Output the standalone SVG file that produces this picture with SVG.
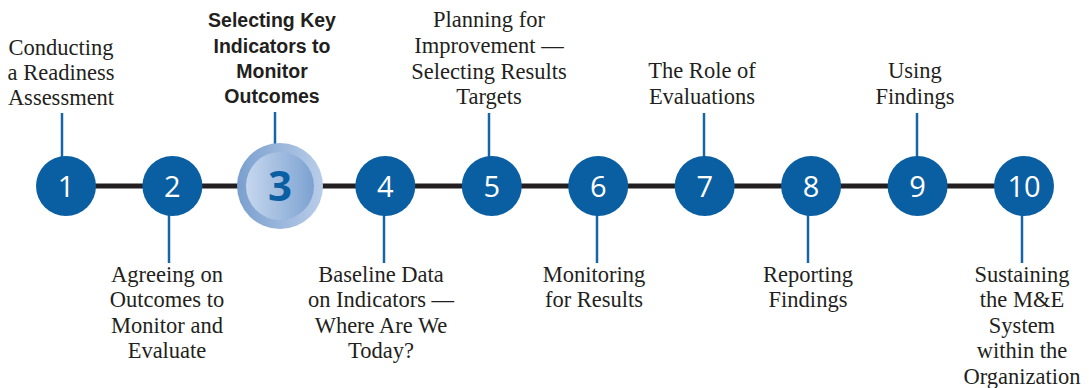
<svg xmlns="http://www.w3.org/2000/svg" width="1089" height="388" viewBox="0 0 1089 388">
<defs>
<style>
.lbl{font-family:"Liberation Serif","Tinos","DejaVu Serif",serif;font-size:22.5px;fill:#231f20;text-anchor:middle}
.blbl{font-family:"Liberation Sans",Arial,sans-serif;font-weight:bold;font-size:19.5px;fill:#231f20;text-anchor:middle}
.num{font-family:"Open Sans","Liberation Sans",sans-serif;font-size:29px;fill:#ffffff;text-anchor:middle}
.dot{fill:#0a5fa3}
.tick{stroke:#1565a8;stroke-width:2.5;fill:none}
</style>
<linearGradient id="ring" x1="0" y1="0" x2="1" y2="0">
<stop offset="0" stop-color="#7a9fce"/>
<stop offset="1" stop-color="#b9cde9"/>
</linearGradient>
<linearGradient id="core" x1="0" y1="0" x2="1" y2="0">
<stop offset="0" stop-color="#c6d7ee"/>
<stop offset="1" stop-color="#7ca2d1"/>
</linearGradient>
</defs>
<rect width="1089" height="388" fill="#ffffff"/>
<g id="connectors">
<line x1="66" y1="186" x2="1024" y2="186" stroke="#231f20" stroke-width="5"/>
<line class="tick" x1="62" y1="113" x2="62" y2="157"/>
<line class="tick" x1="169" y1="215" x2="169" y2="263"/>
<line class="tick" x1="275" y1="112" x2="275" y2="144"/>
<line class="tick" x1="384" y1="215" x2="384" y2="263"/>
<line class="tick" x1="489" y1="113" x2="489" y2="157"/>
<line class="tick" x1="597" y1="215" x2="597" y2="263"/>
<line class="tick" x1="704" y1="113" x2="704" y2="157"/>
<line class="tick" x1="808" y1="215" x2="808" y2="263"/>
<line class="tick" x1="917" y1="113" x2="917" y2="157"/>
<line class="tick" x1="1022" y1="215" x2="1022" y2="263"/>
</g>
<g id="step1">
<circle class="dot" cx="66" cy="186" r="30"/>
<text class="num" x="66" y="196.5">1</text>
<text class="lbl" x="61" y="55">Conducting</text>
<text class="lbl" x="61" y="80">a Readiness</text>
<text class="lbl" x="61" y="105">Assessment</text>
</g>
<g id="step2">
<circle class="dot" cx="172.4" cy="186" r="30"/>
<text class="num" x="172.4" y="196.5">2</text>
<text class="lbl" x="167" y="282">Agreeing on</text>
<text class="lbl" x="167" y="307">Outcomes to</text>
<text class="lbl" x="167" y="333">Monitor and</text>
<text class="lbl" x="167" y="358">Evaluate</text>
</g>
<g id="step3">
<circle cx="280" cy="186" r="43" fill="url(#ring)"/>
<circle cx="280" cy="186" r="34" fill="url(#core)"/>
<text x="280" y="201" style="font-family:'Open Sans','Liberation Sans',sans-serif;font-weight:bold;font-size:42px;fill:#0a5fa3;text-anchor:middle">3</text>
<text class="blbl" x="272" y="27">Selecting Key</text>
<text class="blbl" x="272" y="53">Indicators to</text>
<text class="blbl" x="272" y="78">Monitor</text>
<text class="blbl" x="272" y="103">Outcomes</text>
</g>
<g id="step4">
<circle class="dot" cx="385.3" cy="186" r="30"/>
<text class="num" x="385.3" y="196.5">4</text>
<text class="lbl" x="381" y="282">Baseline Data</text>
<text class="lbl" x="381" y="307">on Indicators —</text>
<text class="lbl" x="381" y="333">Where Are We</text>
<text class="lbl" x="381" y="358">Today?</text>
</g>
<g id="step5">
<circle class="dot" cx="491.8" cy="186" r="30"/>
<text class="num" x="491.8" y="196.5">5</text>
<text class="lbl" x="489" y="27">Planning for</text>
<text class="lbl" x="489" y="53">Improvement —</text>
<text class="lbl" x="489" y="79">Selecting Results</text>
<text class="lbl" x="489" y="104">Targets</text>
</g>
<g id="step6">
<circle class="dot" cx="598.2" cy="186" r="30"/>
<text class="num" x="598.2" y="196.5">6</text>
<text class="lbl" x="594" y="282">Monitoring</text>
<text class="lbl" x="594" y="307">for Results</text>
</g>
<g id="step7">
<circle class="dot" cx="704.7" cy="186" r="30"/>
<text class="num" x="704.7" y="196.5">7</text>
<text class="lbl" x="702" y="78">The Role of</text>
<text class="lbl" x="702" y="104">Evaluations</text>
</g>
<g id="step8">
<circle class="dot" cx="811.1" cy="186" r="30"/>
<text class="num" x="811.1" y="196.5">8</text>
<text class="lbl" x="808" y="282">Reporting</text>
<text class="lbl" x="808" y="307">Findings</text>
</g>
<g id="step9">
<circle class="dot" cx="917.6" cy="186" r="30"/>
<text class="num" x="917.6" y="196.5">9</text>
<text class="lbl" x="915" y="78">Using</text>
<text class="lbl" x="915" y="104">Findings</text>
</g>
<g id="step10">
<circle class="dot" cx="1024" cy="186" r="30"/>
<text class="num" x="1024" y="196.5">10</text>
<text class="lbl" x="1022" y="282">Sustaining</text>
<text class="lbl" x="1022" y="307">the M&amp;E</text>
<text class="lbl" x="1022" y="333">System</text>
<text class="lbl" x="1022" y="358">within the</text>
<text class="lbl" x="1022" y="384">Organization</text>
</g>
</svg>
